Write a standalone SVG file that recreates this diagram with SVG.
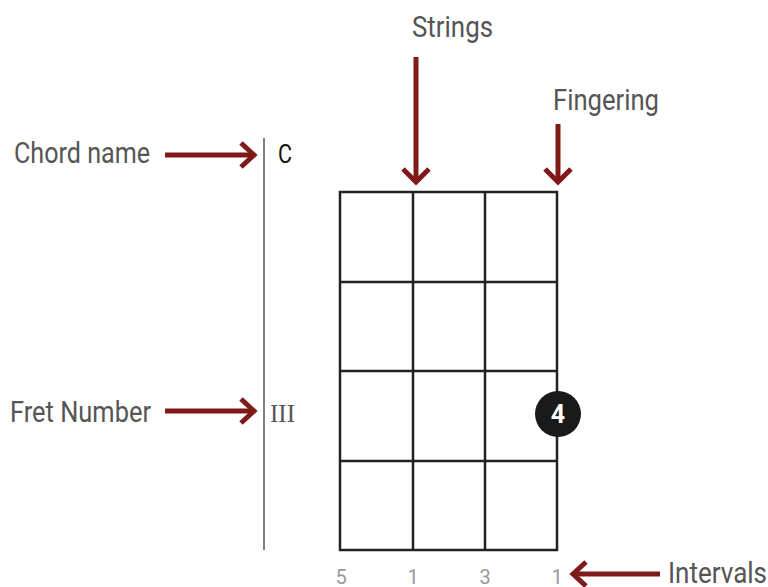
<svg xmlns="http://www.w3.org/2000/svg" width="768" height="587" viewBox="0 0 768 587">
<style>
.lbl{font-family:Roboto,"Liberation Sans",sans-serif;font-size:29px;fill:#555}
.arr{stroke:#7f1a1a;stroke-width:5;fill:none}
.head{stroke:#7f1a1a;stroke-width:5;fill:none;stroke-linecap:butt;stroke-linejoin:miter}
.grid{stroke:#222;stroke-width:2.5;fill:none}
.num{font-family:Roboto,"Liberation Sans",sans-serif;font-size:20px;fill:#999;text-anchor:middle}
</style>
<rect width="768" height="587" fill="#fff"/>
<g id="chart">
<line x1="264" y1="138" x2="264" y2="550" stroke="#555" stroke-width="1.5"/>
<rect class="grid" x="340" y="192" width="217" height="358"/>
<line class="grid" x1="413" y1="192" x2="413" y2="550"/>
<line class="grid" x1="485" y1="192" x2="485" y2="550"/>
<line class="grid" x1="340" y1="282" x2="557" y2="282"/>
<line class="grid" x1="340" y1="371" x2="557" y2="371"/>
<line class="grid" x1="340" y1="461" x2="557" y2="461"/>
</g>
<g id="chord"><text x="278" y="163" font-family="Roboto,'Liberation Sans',sans-serif" font-size="25" fill="#111" textLength="14" lengthAdjust="spacingAndGlyphs">C</text></g>
<g id="fret"><text x="270" y="422" font-family="'Liberation Serif',serif" font-size="26" fill="#555" textLength="25" lengthAdjust="spacingAndGlyphs">III</text></g>
<g id="finger">
<circle cx="558" cy="414" r="23" fill="#1a1a1a"/>
<text x="558" y="423" font-family="Roboto,'Liberation Sans',sans-serif" font-size="25" font-weight="bold" fill="#fff" text-anchor="middle">4</text>
</g>
<g id="intervals">
<text class="num" x="341" y="584">5</text>
<text class="num" x="413" y="584">1</text>
<text class="num" x="485" y="584">3</text>
<text class="num" x="557" y="584">1</text>
</g>
<g id="labels">
<text class="lbl" x="14" y="163" textLength="136" lengthAdjust="spacingAndGlyphs">Chord name</text>
<text class="lbl" x="10" y="422" textLength="141" lengthAdjust="spacingAndGlyphs">Fret Number</text>
<text class="lbl" x="412" y="37" textLength="81" lengthAdjust="spacingAndGlyphs">Strings</text>
<text class="lbl" x="553" y="110" textLength="106" lengthAdjust="spacingAndGlyphs">Fingering</text>
<text class="lbl" x="668" y="583" textLength="99" lengthAdjust="spacingAndGlyphs">Intervals</text>
</g>
<g id="connectors">
<line class="arr" x1="165" y1="155" x2="253" y2="155"/>
<polyline class="head" points="241,143 254,155 241,167"/>
<line class="arr" x1="165" y1="411" x2="253" y2="411"/>
<polyline class="head" points="241,399 254,411 241,423"/>
<line class="arr" x1="416" y1="57" x2="416" y2="181"/>
<polyline class="head" points="403,169 416,182 429,169"/>
<line class="arr" x1="558" y1="124" x2="558" y2="181"/>
<polyline class="head" points="545,169 558,182 571,169"/>
<line class="arr" x1="660" y1="574" x2="574" y2="574"/>
<polyline class="head" points="586,562 573,574 586,586"/>
</g>
</svg>
